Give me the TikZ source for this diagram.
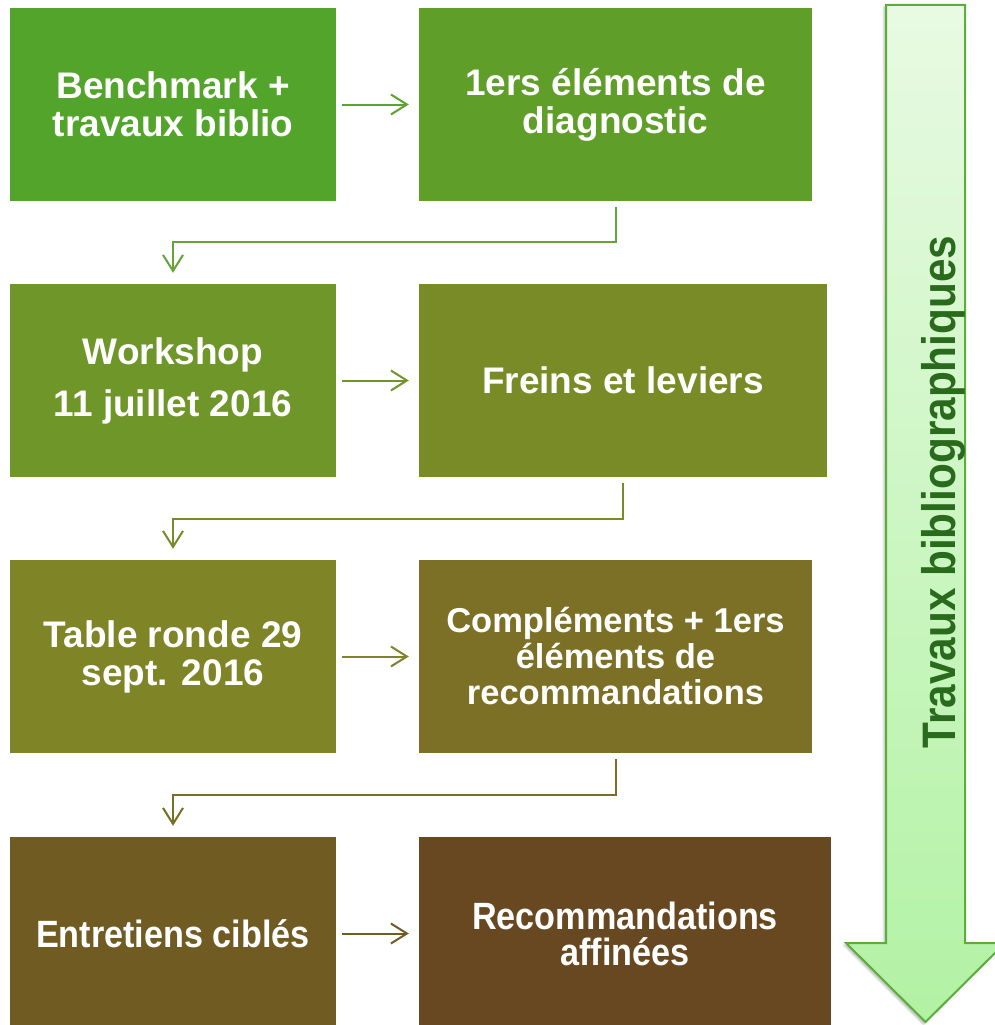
\documentclass[tikz,border=0pt]{standalone}
\usepackage{fontspec}
\setmainfont{Liberation Sans}
\newfontfamily\narrowfont{Liberation Sans}[FakeStretch=0.9]
\usetikzlibrary{arrows.meta,shadows.blur}
\definecolor{cA}{HTML}{53A42B}
\definecolor{cB}{HTML}{5F9E29}
\definecolor{cC}{HTML}{6E9628}
\definecolor{cD}{HTML}{798B26}
\definecolor{cE}{HTML}{7F8426}
\definecolor{cF}{HTML}{7B7025}
\definecolor{cG}{HTML}{705B22}
\definecolor{cH}{HTML}{674821}
\definecolor{lA}{HTML}{5EA232}
\definecolor{lB}{HTML}{66A33A}
\definecolor{lC}{HTML}{70962A}
\definecolor{lD}{HTML}{7A8A2A}
\definecolor{lE}{HTML}{7E8427}
\definecolor{lF}{HTML}{7A6E26}
\definecolor{lG}{HTML}{705B22}
\definecolor{arrBorder}{HTML}{5CAE3A}
\definecolor{arrTop}{HTML}{E8FAE3}
\definecolor{arrBottom}{HTML}{B2F2A4}
\definecolor{arrText}{HTML}{2A6A1C}
\begin{document}
\begin{tikzpicture}[x=1pt,y=-1pt,
  box/.style={rectangle, inner sep=0pt, minimum height=193pt, text=white, align=center,
    font=\fontsize{37}{38}\selectfont\bfseries},
  link/.style={line width=2pt, -{Straight Barb[length=16pt,width=20pt]}},
]
\useasboundingbox (0,0) rectangle (994,1025);

% boxes
\node[box, fill=cA, minimum width=326pt] (A) at (173,104.5) {Benchmark +\\travaux biblio};
\node[box, fill=cB, minimum width=393pt] (B) at (615.5,104.5) {1ers éléments de\\diagnostic};
\node[box, fill=cC, minimum width=326pt] (C) at (173,380.5) {Workshop\\[14pt]11 juillet 2016};
\node[box, fill=cD, minimum width=408pt] (D) at (623,380.5) {Freins et leviers};
\node[box, fill=cE, minimum width=326pt] (E) at (173,656.5) {Table ronde 29\\sept. 2016};
\node[box, fill=cF, minimum width=393pt, font=\fontsize{34.5}{36}\selectfont\bfseries] (F) at (615.5,656.5) {Compléments + 1ers\\éléments de\\recommandations};
\node[box, fill=cG, minimum width=326pt, font=\fontsize{38}{36}\selectfont\narrowfont\bfseries] (G) at (173,933.5) {Entretiens ciblés};
\node[box, fill=cH, minimum width=412pt, font=\fontsize{38}{36}\selectfont\narrowfont\bfseries] (H) at (625,933.5) {Recommandations\\affinées};

% connectors
\draw[link, lA] ([xshift=6pt]A.east) -- ([xshift=-10pt]B.west);
\draw[link, lB] ([yshift=-6pt]B.south) -- ++(0,35) -| ([yshift=11pt]C.north);
\draw[link, lC] ([xshift=6pt]C.east) -- ([xshift=-10pt]D.west);
\draw[link, lD] ([yshift=-6pt]D.south) -- ++(0,36) -| ([yshift=11pt]E.north);
\draw[link, lE] ([xshift=6pt]E.east) -- ([xshift=-10pt]F.west);
\draw[link, lF] ([yshift=-6pt]F.south) -- ++(0,36) -| ([yshift=11pt]G.north);
\draw[link, lG] ([xshift=6pt]G.east) -- ([xshift=-10pt]H.west);

% big arrow
\draw[line width=2pt, draw=arrBorder, top color=arrTop, bottom color=arrBottom,
  blur shadow={shadow xshift=-2pt, shadow yshift=-2pt, shadow blur steps=6, shadow opacity=30}]
  (886,5) -- (965,5) -- (965,943) -- (1005,943) -- (925.5,1022) -- (846,943) -- (886,943) -- cycle;
\node[rotate=90, anchor=base, text=arrText, inner sep=0pt,
  font=\fontsize{47}{47}\selectfont\narrowfont\bfseries] (T) at (955,492) {Travaux bibliographiques};
\end{tikzpicture}
\end{document}
